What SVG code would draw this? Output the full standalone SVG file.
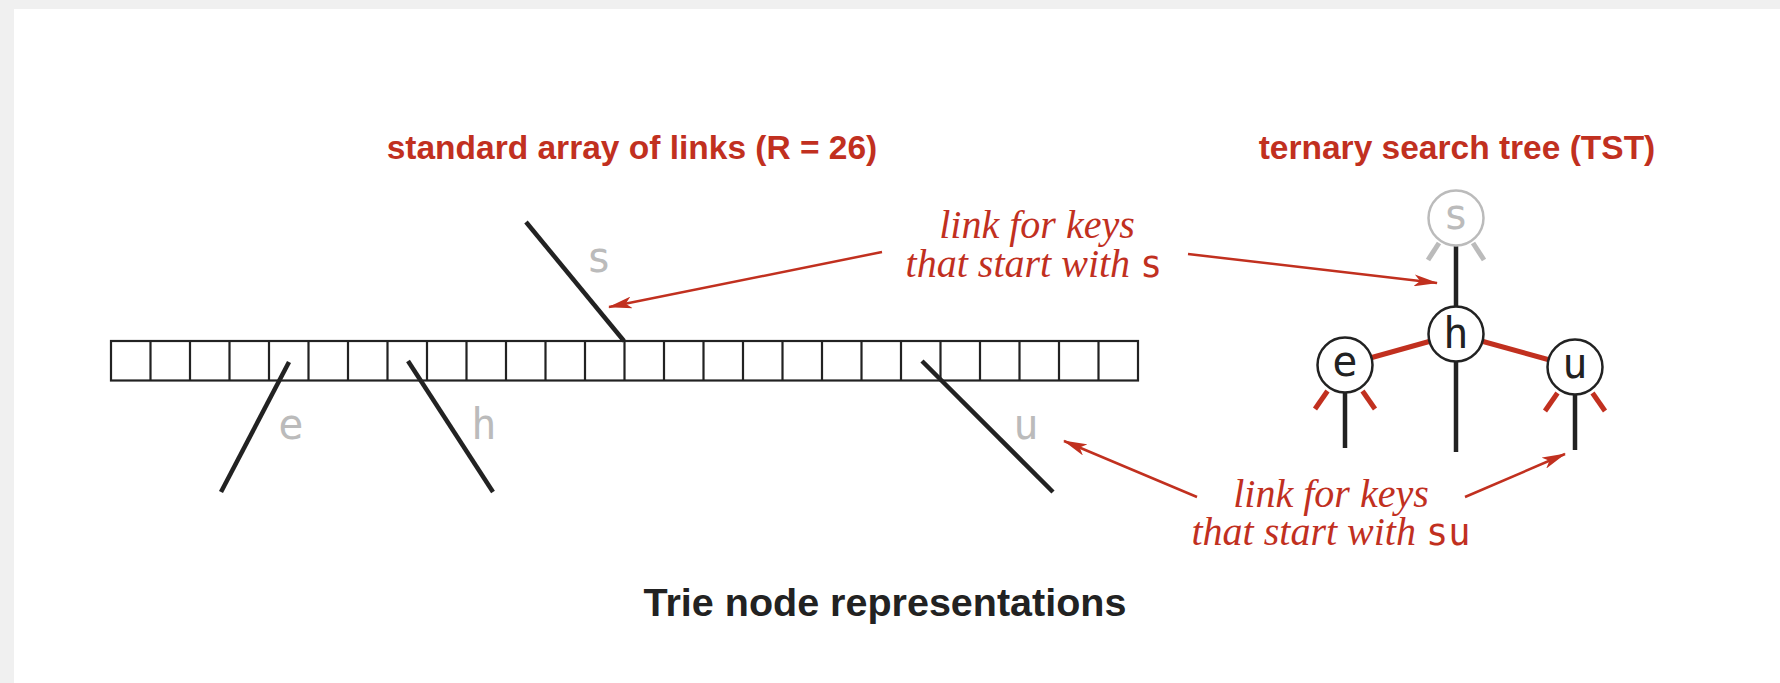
<svg xmlns="http://www.w3.org/2000/svg" width="1780" height="683" viewBox="0 0 1780 683">
<style>
.title{font-family:"Liberation Sans",Arial,sans-serif;font-weight:bold;fill:#c1301f;font-size:33.5px;text-anchor:middle}
.caption{font-family:"Liberation Sans",Arial,sans-serif;font-weight:bold;fill:#222;font-size:39.5px;text-anchor:middle}
.note{font-family:"Liberation Serif","Times New Roman",serif;font-style:italic;fill:#c1301f;font-size:40px;text-anchor:middle}
.mono{font-family:"DejaVu Sans Mono",monospace;font-style:normal;font-size:37px}
.key{font-family:"DejaVu Sans Mono",monospace;font-size:42px;text-anchor:middle}
.gray{fill:#bbbbbb}
.blk{fill:#222}
.cell{fill:#fff;stroke:#222;stroke-width:2.2}
.link{stroke:#222;stroke-width:4.5;stroke-linecap:butt;fill:none}
.redlink{stroke:#c1301f;stroke-width:5;fill:none}
.graylink{stroke:#bbbbbb;stroke-width:5;fill:none}
.arrow{stroke:#c1301f;stroke-width:2.5;fill:none;marker-end:url(#ah)}
.circ{fill:#fff;stroke:#222;stroke-width:2.5}
.circg{fill:#fff;stroke:#bbbbbb;stroke-width:2.5}
</style>
<defs>
<marker id="ah" viewBox="0 0 24 12" refX="23" refY="6" markerWidth="24" markerHeight="12" markerUnits="userSpaceOnUse" orient="auto">
<path d="M0,0 L24,6 L0,12 L6,6 Z" fill="#c1301f"/>
</marker>
</defs>
<rect x="0" y="0" width="1780" height="683" fill="#f0f0f0"/>
<rect x="14" y="9" width="1766" height="674" fill="#ffffff"/>

<text class="title" x="632" y="159">standard array of links (R = 26)</text>
<text class="title" x="1457" y="159">ternary search tree (TST)</text>

<g id="array">
<rect class="cell" x="111" y="341" width="1027" height="39.5"/>
<path d="M150.5,341V380.5M190,341V380.5M229.5,341V380.5M269,341V380.5M308.5,341V380.5M348,341V380.5M387.5,341V380.5M427,341V380.5M466.5,341V380.5M506,341V380.5M545.5,341V380.5M585,341V380.5M624.5,341V380.5M664,341V380.5M703.5,341V380.5M743,341V380.5M782.5,341V380.5M822,341V380.5M861.5,341V380.5M901,341V380.5M940.5,341V380.5M980,341V380.5M1019.5,341V380.5M1059,341V380.5M1098.5,341V380.5" stroke="#222" stroke-width="2.2" fill="none"/>
<line class="link" x1="526" y1="222" x2="624" y2="341"/>
<line class="link" x1="289" y1="362" x2="221" y2="492"/>
<line class="link" x1="408" y1="361" x2="493" y2="492"/>
<line class="link" x1="922" y1="361" x2="1053" y2="492"/>
<text class="key gray" x="599" y="272">s</text>
<text class="key gray" x="291" y="439">e</text>
<text class="key gray" x="484" y="439">h</text>
<text class="key gray" x="1026" y="439">u</text>
</g>

<g id="tst-links">
<line class="graylink" x1="1439" y1="243" x2="1428" y2="260"/>
<line class="graylink" x1="1473" y1="243" x2="1484" y2="260"/>
<line class="link" x1="1456" y1="245" x2="1456" y2="307"/>
<line class="link" x1="1456" y1="361" x2="1456" y2="452"/>
<line class="redlink" x1="1345" y1="365" x2="1456" y2="334"/>
<line class="redlink" x1="1456" y1="334" x2="1575" y2="367"/>
<line class="redlink" x1="1327.5" y1="391" x2="1315" y2="409"/>
<line class="redlink" x1="1362.5" y1="391" x2="1375" y2="409"/>
<line class="link" x1="1345" y1="392" x2="1345" y2="448"/>
<line class="redlink" x1="1557.5" y1="393" x2="1545" y2="411"/>
<line class="redlink" x1="1592.5" y1="393" x2="1605" y2="411"/>
<line class="link" x1="1575" y1="394" x2="1575" y2="450"/>
</g>

<g id="node-s">
<circle class="circg" cx="1456" cy="218" r="27.5"/>
<text class="key gray" x="1456" y="229">s</text>
</g>
<g id="node-h">
<circle class="circ" cx="1456" cy="334" r="27.5"/>
<text class="key blk" x="1456" y="348">h</text>
</g>
<g id="node-e">
<circle class="circ" cx="1345" cy="365" r="27.5"/>
<text class="key blk" x="1345" y="376">e</text>
</g>
<g id="node-u">
<circle class="circ" cx="1575" cy="367" r="27.5"/>
<text class="key blk" x="1575" y="378">u</text>
</g>

<g id="connectors">
<line class="arrow" x1="882" y1="252" x2="609" y2="307"/>
<line class="arrow" x1="1188" y1="254" x2="1437" y2="283"/>
<line class="arrow" x1="1197" y1="497" x2="1064" y2="441"/>
<line class="arrow" x1="1465" y1="497" x2="1565" y2="454"/>
</g>

<g id="notes">
<text class="note" x="1037" y="238">link for keys</text>
<text class="note" x="1034" y="277">that start with <tspan class="mono">s</tspan></text>
<text class="note" x="1331" y="507">link for keys</text>
<text class="note" x="1331" y="545">that start with <tspan class="mono">su</tspan></text>
</g>

<text class="caption" x="885" y="616">Trie node representations</text>
</svg>
